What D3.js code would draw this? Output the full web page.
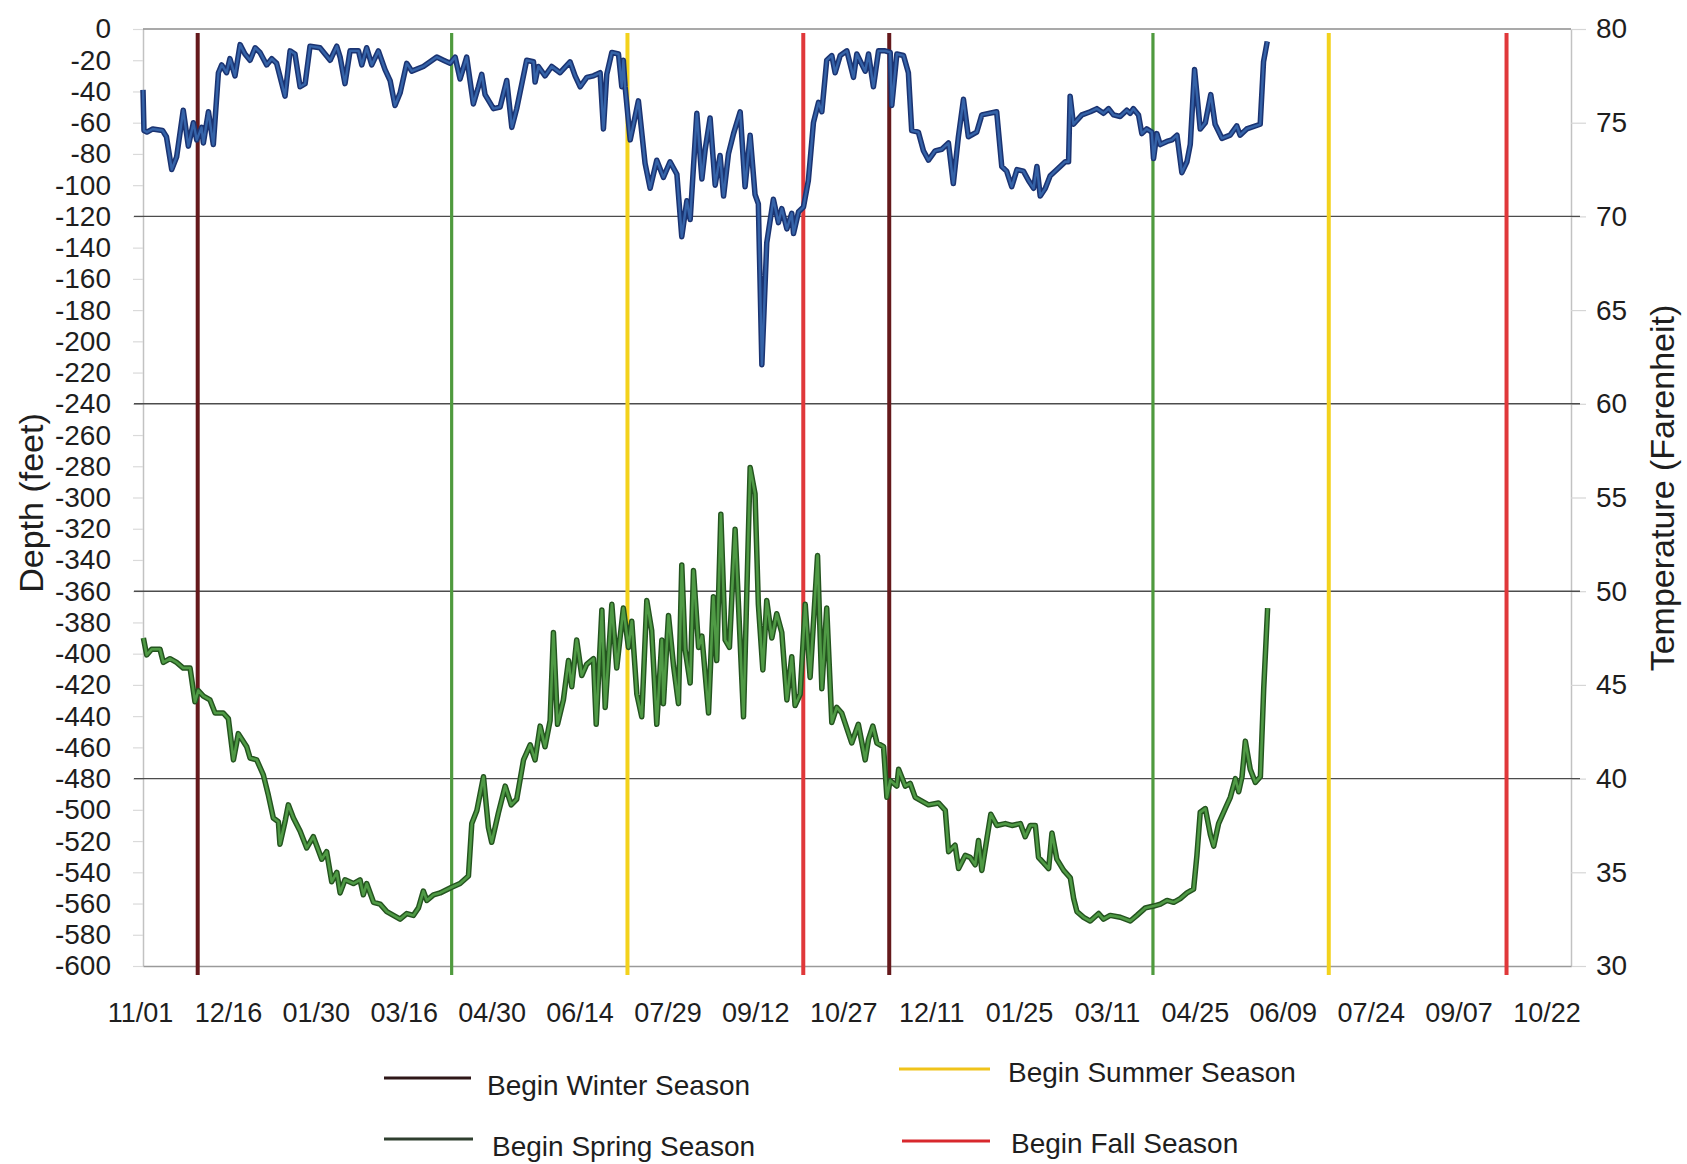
<!DOCTYPE html>
<html><head><meta charset="utf-8">
<script src="https://cdn.jsdelivr.net/npm/d3@7"></script>
<style>body{margin:0;background:#fff}</style>
</head><body><svg id="c" width="1687" height="1164"></svg>
<script>
// ---------------- DATA ----------------
const startDate = "2005-11-01";
const endDate = "2007-11-02";

// depth series: day offset from startDate, depth in feet
const depthDays = [0,0.5,2,5,10,12,14.7,17.2,20.6,23.2,25.8,27.5,30,30.9,33.5,36,38.6,40.3,42.8,44.5,47.1,49.7,52.2,54.8,57.4,59.9,63.3,65.9,68.4,72.7,75.3,77.8,80.4,83,85.5,90.6,95.8,99.2,100.9,103.4,106,110.3,112,114.5,117.1,120.5,123.9,126.5,129,131.6,135,137.6,143.5,150.4,153.8,157.2,159.8,162.3,165.7,169.1,171.7,173.4,175.1,179.4,182.8,186.2,188.8,191.3,196.4,199.9,200.7,202.4,205.8,209.2,213.5,218.6,221.2,223.8,227.2,230.6,234,235.7,237.4,240,243.4,245.1,245.9,246.8,249.4,253.6,257,259.6,263,266.4,269.8,273.3,275.8,278.4,280.1,283.5,286.1,287.8,290.3,292.9,295.4,297.2,299.7,302.3,305.7,308.2,310.8,313.3,315,316.8,319.3,322.7,325.3,327,329.6,332.1,333,335.6,338.1,340.6,343.2,345.8,347.5,350,352.6,354.3,356.9,360.3,363.7,365.4,369.7,371.4,373.9,376.5,379.9,382.5,383.3,385.9,389.3,391.8,393.5,396.9,399.5,402.1,405.5,408.9,412.3,414.8,417.4,420,422.5,426.8,429.4,437,439.6,442.1,444.7,447.4,450.7,453.3,455.9,457.6,459.3,461.9,464.4,468.7,472.1,473.8,474.6,476.3,480.6,484.9,488.3,491.7,494.3,496.8,500.2,503.6,505.3,507,509.6,511.3,513.8,516.4,517.3,519,520.7,524.1,526.7,529.3,531.8,534.4,536.1,538.3,541.2,543.8,546.6,548.8,552.3,556.5,559.9,561.6,565,571.9,573.6,575.5];
const depthFeet = [-39,-65,-66,-64,-65,-69,-90,-82,-52,-75,-60,-71,-63,-73,-53,-74,-28,-23,-28,-19,-30,-10,-16,-20,-12,-15,-23,-19,-22,-43,-14,-16,-37,-35,-11,-12,-20,-11,-18,-35,-14,-14,-23,-12,-23,-14,-26,-33,-49,-41,-22,-27,-24,-18,-20,-22,-18,-32,-18,-48,-37,-29,-42,-51,-50,-33,-63,-51,-20,-21,-34,-24,-30,-24,-28,-21,-30,-37,-31,-30,-28,-64,-29,-15,-16,-37,-20,-37,-71,-46,-86,-102,-84,-95,-85,-93,-133,-110,-122,-54,-96,-77,-57,-100,-81,-107,-80,-67,-53,-101,-68,-106,-112,-215,-137,-109,-124,-115,-128,-118,-131,-117,-114,-97,-60,-47,-53,-20,-17,-28,-17,-14,-31,-16,-27,-16,-37,-14,-14,-15,-49,-16,-17,-28,-65,-66,-78,-84,-78,-77,-73,-99,-69,-45,-69,-66,-55,-53,-88,-91,-101,-90,-91,-97,-102,-88,-107,-102,-94,-89,-85,-85,-43,-61,-55,-53,-51,-54,-51,-55,-56,-52,-54,-51,-55,-67,-64,-66,-83,-67,-74,-72,-71,-68,-92,-85,-74,-26,-64,-60,-42,-61,-70,-68,-62,-68,-64,-61,-21,-8];

// temperature series: day offset from startDate, degrees F
const tempDays = [0.2,1.9,4.4,8.7,10.4,13.8,17.2,20.6,24.1,26.6,28.3,30.9,34.3,36.9,41.1,43.7,46.3,48.8,53.1,54.8,58.2,61.6,64.2,66.7,69.3,70.1,72.9,74.4,77,80.4,83.8,87.2,91.5,94,96.6,99.2,100.9,103.4,107.7,111.1,112.8,114.5,118,121.4,124.8,128.2,131.6,135,138.4,141,143.5,145.3,148.7,152.1,158,162.3,166.6,168.3,170.9,174.3,176.8,178.5,182,185.4,188.5,191.3,194.8,198.2,200.7,203.3,205.8,208.4,210.1,212.2,215.2,217.8,219.5,222,224.6,227.1,230.6,232,234.9,236.6,240,242.5,245.9,248.5,250.2,252.8,255.3,257.9,260.4,263,265.6,266.4,269,271.6,274.1,275.8,277.5,280.1,281.8,284.4,286.1,289.5,292,293.7,295.8,298,300.2,303.1,307.4,310.8,313.3,315,317.3,319.3,321.9,324.4,327,329.6,332.1,333.8,336.4,339,341.5,345.3,347.5,350,352.6,355.1,357.7,362.8,366.2,369.7,371.4,373.6,375.7,379.1,380.8,382.5,385.9,386.8,390.2,392.7,395.3,398.7,402.1,407.2,410.7,412.4,415.7,417.5,420.9,423.4,426,427.7,429.4,432,434,437.1,441.4,444.8,449.1,451.6,454.2,456.8,458.4,461,463.6,465.3,467.8,471.3,474.7,476.4,478.1,481.5,484.9,489.2,491.7,495.1,500.3,505.4,508.8,513.1,517.4,520.8,524.2,527.6,531,534.4,537.8,539.5,541.2,543.8,546.4,548.1,550.6,554,556.6,559.2,560.9,562.6,564.3,566.8,569.4,572,573.7,575.7];
const tempF = [47.5,46.6,46.9,46.9,46.2,46.4,46.2,45.9,45.9,44.1,44.7,44.4,44.2,43.5,43.5,43.2,41.0,42.4,41.7,41.1,41.0,40.2,39.1,37.9,37.7,36.5,37.8,38.6,37.9,37.2,36.3,36.9,35.7,36.1,34.5,35.0,33.9,34.6,34.4,34.6,33.8,34.4,33.4,33.3,32.9,32.7,32.5,32.8,32.7,33.1,34.0,33.5,33.8,33.9,34.2,34.4,34.8,37.6,38.3,40.1,37.4,36.6,38.2,39.6,38.6,38.9,41.0,41.8,41.0,42.8,41.7,43.1,47.8,42.9,44.2,46.3,44.9,47.4,45.5,46.1,46.4,42.9,49.0,43.8,49.3,45.9,49.1,47.0,48.4,44.5,43.3,49.5,47.9,42.9,47.4,44.0,48.7,46.0,44.0,51.4,46.9,45.1,51.1,47.0,47.6,43.5,49.7,46.3,54.1,47.4,47.0,53.3,43.3,56.6,55.2,49.3,45.8,49.5,47.5,48.8,47.8,44.2,46.5,43.9,44.5,49.3,45.4,51.9,44.8,49.1,43.0,43.8,43.5,41.9,42.9,41.0,42.1,42.8,41.9,41.7,39.0,39.9,39.6,40.5,39.6,39.75,39.0,38.8,38.6,38.7,38.3,36.1,36.45,35.2,35.9,35.8,35.4,36.7,35.1,36.8,38.1,37.5,37.6,37.5,37.6,36.9,37.5,37.5,35.8,35.5,35.2,37.1,35.7,35.1,34.7,33.6,32.9,32.6,32.4,32.8,32.5,32.7,32.6,32.4,32.7,33.1,33.2,33.3,33.5,33.4,33.6,33.9,34.1,35.9,38.2,38.4,37.0,36.4,37.6,38.4,39.0,40.0,39.3,40.1,42.0,40.5,39.8,40.1,44.8,49.1];

const seasonNames = ["Begin Winter Season","Begin Spring Season","Begin Summer Season","Begin Fall Season"];
const seasonDates = [["2005-11-29","2006-11-18"],["2006-04-08","2007-04-02"],["2006-07-07","2007-07-01"],["2006-10-05","2007-09-30"]];
const seasonColors = ["#65191c","#4f9a3e","#f3d21c","#e0383a"];
const legendColors = ["#2e1718","#2f3f2f","#f0c31a","#d8282d"];

const xTickDays = [0,45,90,135,180,225,270,315,360,405,450,495,540,585,630,675,720];
const xTickLabels = ["11/01","12/16","01/30","03/16","04/30","06/14","07/29","09/12","10/27","12/11","01/25","03/11","04/25","06/09","07/24","09/07","10/22"];
const depthTicks = [0,-20,-40,-60,-80,-100,-120,-140,-160,-180,-200,-220,-240,-260,-280,-300,-320,-340,-360,-380,-400,-420,-440,-460,-480,-500,-520,-540,-560,-580,-600];
const tempTicks = [30,35,40,45,50,55,60,65,70,75,80];
const gridTemps = [70,60,50,40];

// ---------------- CHART ----------------
const M = {l:143, r:1571, t:29, b:966};
const FONT = '"Liberation Sans", Arial, Helvetica, sans-serif';
const TXT = "#1e1e1e";
const parse = d3.utcParse("%Y-%m-%d");
const t0 = parse(startDate), t1 = parse(endDate);
const dayToDate = d => new Date(t0.getTime() + d * 864e5);

const x = d3.scaleUtc().domain([t0, t1]).range([M.l, M.r]);
const yD = d3.scaleLinear().domain([-600, 0]).range([M.b, M.t]);
const yT = d3.scaleLinear().domain([30, 80]).range([M.b, M.t]);

const svg = d3.select("#c");
svg.append("rect").attr("width",1687).attr("height",1164).attr("fill","#fff");

// left axis
const gl = svg.append("g").attr("transform", `translate(${M.l},0)`)
  .call(d3.axisLeft(yD).tickValues(depthTicks).tickFormat(d => String(d))
    .tickSize(10).tickSizeOuter(0).tickPadding(22));
gl.attr("font-family", FONT).attr("font-size", 28);
gl.select(".domain").attr("stroke", "#c2c2c2").attr("stroke-width", 1.5);
gl.selectAll(".tick line").attr("stroke", "#dadada").attr("stroke-width", 1.2);
gl.selectAll(".tick text").attr("fill", TXT);

// right axis
const gr = svg.append("g").attr("transform", `translate(${M.r},0)`)
  .call(d3.axisRight(yT).tickValues(tempTicks).tickFormat(d => String(d))
    .tickSize(15).tickSizeOuter(0).tickPadding(10));
gr.attr("font-family", FONT).attr("font-size", 28);
gr.select(".domain").attr("stroke", "#c2c2c2").attr("stroke-width", 1.5);
gr.selectAll(".tick line").attr("stroke", "#d6d6d6").attr("stroke-width", 1.2);
gr.selectAll(".tick text").attr("fill", TXT);

// bottom axis
const gb = svg.append("g").attr("transform", `translate(0,${M.b})`)
  .call(d3.axisBottom(x).tickValues(xTickDays.map(dayToDate))
    .tickFormat((d, i) => xTickLabels[i]).tickSize(0).tickSizeOuter(0).tickPadding(37));
gb.attr("font-family", FONT).attr("font-size", 27);
gb.select(".domain").attr("stroke", "#9a9a9a").attr("stroke-width", 1.5);
gb.selectAll(".tick text").attr("fill", TXT).attr("dx", -3);

// top border
svg.append("line").attr("x1", M.l).attr("x2", M.r).attr("y1", yT(80)).attr("y2", yT(80))
  .attr("stroke", "#8c8c8c").attr("stroke-width", 1.5);

// gridlines
svg.append("g").selectAll("line").data(gridTemps).join("line")
  .attr("x1", M.l - 9).attr("x2", M.r + 9)
  .attr("y1", d => yT(d)).attr("y2", d => yT(d))
  .attr("stroke", "#4c4c4c").attr("stroke-width", 1.4);

// season lines
const seasonLines = [];
seasonDates.forEach((arr, i) => arr.forEach(d => seasonLines.push({d: parse(d), i})));
svg.append("g").selectAll("line").data(seasonLines).join("line")
  .attr("x1", d => x(d.d)).attr("x2", d => x(d.d))
  .attr("y1", yD(0) + 4).attr("y2", yD(-600) + 9)
  .attr("stroke", d => seasonColors[d.i])
  .attr("stroke-width", d => d.i === 1 ? 3.2 : 4);

// data lines
const depthData = depthDays.map((d, i) => [dayToDate(d), depthFeet[i]]);
const tempData = tempDays.map((d, i) => [dayToDate(d), tempF[i]]);
const lineD = d3.line().x(d => x(d[0])).y(d => yD(d[1]));
const lineT = d3.line().x(d => x(d[0])).y(d => yT(d[1]));

svg.append("path").datum(tempData).attr("d", lineT).attr("fill", "none")
  .attr("stroke", "#24541f").attr("stroke-width", 5.5).attr("stroke-linejoin", "round");
svg.append("path").datum(tempData).attr("d", lineT).attr("fill", "none")
  .attr("stroke", "#4f9a45").attr("stroke-width", 2.6).attr("stroke-linejoin", "round");

svg.append("path").datum(depthData).attr("d", lineD).attr("fill", "none")
  .attr("stroke", "#1b3472").attr("stroke-width", 5.5).attr("stroke-linejoin", "round");
svg.append("path").datum(depthData).attr("d", lineD).attr("fill", "none")
  .attr("stroke", "#3563a8").attr("stroke-width", 2.4).attr("stroke-linejoin", "round");

// axis titles
svg.append("text").attr("transform", "translate(31,503) rotate(-90)")
  .attr("text-anchor", "middle").attr("dominant-baseline", "central")
  .attr("font-family", FONT).attr("font-size", 34).attr("fill", TXT).text("Depth (feet)");
svg.append("text").attr("transform", "translate(1662,488) rotate(-90)")
  .attr("text-anchor", "middle").attr("dominant-baseline", "central")
  .attr("font-family", FONT).attr("font-size", 34).attr("fill", TXT).text("Temperature (Farenheit)");

// legend
const legendPos = [
  {x1:384, x2:471, ly:1078, tx:487, ty:1095},
  {x1:384, x2:473, ly:1139, tx:492, ty:1156},
  {x1:899, x2:990, ly:1069, tx:1008, ty:1082},
  {x1:902, x2:990, ly:1141, tx:1011, ty:1153}
];
const lg = svg.append("g");
lg.selectAll("line").data(seasonNames).join("line")
  .attr("x1", (d, i) => legendPos[i].x1).attr("x2", (d, i) => legendPos[i].x2)
  .attr("y1", (d, i) => legendPos[i].ly).attr("y2", (d, i) => legendPos[i].ly)
  .attr("stroke", (d, i) => legendColors[i]).attr("stroke-width", 3);
lg.selectAll("text").data(seasonNames).join("text")
  .attr("x", (d, i) => legendPos[i].tx).attr("y", (d, i) => legendPos[i].ty)
  .attr("font-family", FONT).attr("font-size", 28).attr("fill", TXT).text(d => d);
</script>
</body></html>
